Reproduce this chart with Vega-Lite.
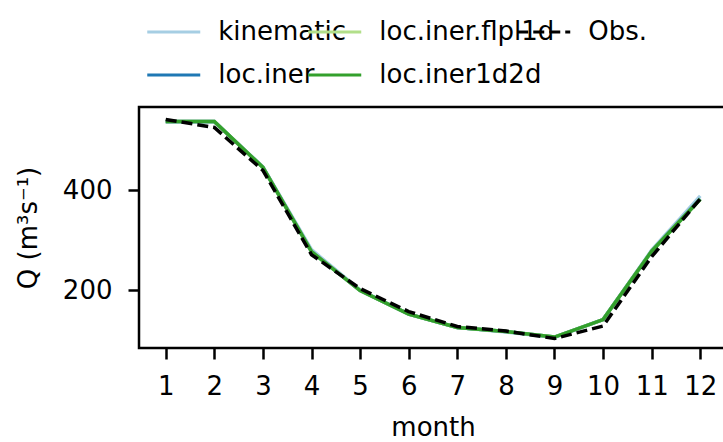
{
  "$schema": "https://vega.github.io/schema/vega-lite/v6.json",
  "autosize": "none",
  "padding": {"left": 139, "top": 107, "right": 0, "bottom": 94},
  "width": 588,
  "height": 241,
  "config": {
    "font": "DejaVu Sans",
    "view": {"stroke": "black", "strokeWidth": 2.5},
    "axis": {"grid": false, "domain": false, "tickColor": "black", "tickWidth": 2.5, "tickSize": 11, "labelColor": "black", "titleColor": "black", "labelFontSize": 26, "titleFontSize": 26, "titleFontWeight": "normal", "labelFont": "DejaVu Sans", "titleFont": "DejaVu Sans"},
    "legend": {"labelFont": "DejaVu Sans", "labelFontSize": 26, "labelColor": "black", "labelLimit": 400}
  },
  "data": {"values": [
    {"month": 1, "series": "kinematic", "Q": 537}, {"month": 2, "series": "kinematic", "Q": 537}, {"month": 3, "series": "kinematic", "Q": 447}, {"month": 4, "series": "kinematic", "Q": 281}, {"month": 5, "series": "kinematic", "Q": 200}, {"month": 6, "series": "kinematic", "Q": 152}, {"month": 7, "series": "kinematic", "Q": 125}, {"month": 8, "series": "kinematic", "Q": 116}, {"month": 9, "series": "kinematic", "Q": 105}, {"month": 10, "series": "kinematic", "Q": 141}, {"month": 11, "series": "kinematic", "Q": 280}, {"month": 12, "series": "kinematic", "Q": 389},
    {"month": 1, "series": "loc.iner", "Q": 538}, {"month": 2, "series": "loc.iner", "Q": 538}, {"month": 3, "series": "loc.iner", "Q": 446}, {"month": 4, "series": "loc.iner", "Q": 277}, {"month": 5, "series": "loc.iner", "Q": 199}, {"month": 6, "series": "loc.iner", "Q": 152}, {"month": 7, "series": "loc.iner", "Q": 125}, {"month": 8, "series": "loc.iner", "Q": 117}, {"month": 9, "series": "loc.iner", "Q": 106}, {"month": 10, "series": "loc.iner", "Q": 141}, {"month": 11, "series": "loc.iner", "Q": 278}, {"month": 12, "series": "loc.iner", "Q": 383},
    {"month": 1, "series": "loc.iner.flpl1d", "Q": 538}, {"month": 2, "series": "loc.iner.flpl1d", "Q": 538}, {"month": 3, "series": "loc.iner.flpl1d", "Q": 446}, {"month": 4, "series": "loc.iner.flpl1d", "Q": 277}, {"month": 5, "series": "loc.iner.flpl1d", "Q": 199}, {"month": 6, "series": "loc.iner.flpl1d", "Q": 152}, {"month": 7, "series": "loc.iner.flpl1d", "Q": 125}, {"month": 8, "series": "loc.iner.flpl1d", "Q": 117}, {"month": 9, "series": "loc.iner.flpl1d", "Q": 106}, {"month": 10, "series": "loc.iner.flpl1d", "Q": 141}, {"month": 11, "series": "loc.iner.flpl1d", "Q": 278}, {"month": 12, "series": "loc.iner.flpl1d", "Q": 382},
    {"month": 1, "series": "loc.iner1d2d", "Q": 538}, {"month": 2, "series": "loc.iner1d2d", "Q": 538}, {"month": 3, "series": "loc.iner1d2d", "Q": 446}, {"month": 4, "series": "loc.iner1d2d", "Q": 277}, {"month": 5, "series": "loc.iner1d2d", "Q": 199}, {"month": 6, "series": "loc.iner1d2d", "Q": 152}, {"month": 7, "series": "loc.iner1d2d", "Q": 125}, {"month": 8, "series": "loc.iner1d2d", "Q": 117}, {"month": 9, "series": "loc.iner1d2d", "Q": 106}, {"month": 10, "series": "loc.iner1d2d", "Q": 141}, {"month": 11, "series": "loc.iner1d2d", "Q": 278}, {"month": 12, "series": "loc.iner1d2d", "Q": 382},
    {"month": 1, "series": "Obs.", "Q": 542}, {"month": 2, "series": "Obs.", "Q": 526}, {"month": 3, "series": "Obs.", "Q": 440}, {"month": 4, "series": "Obs.", "Q": 271}, {"month": 5, "series": "Obs.", "Q": 203}, {"month": 6, "series": "Obs.", "Q": 157}, {"month": 7, "series": "Obs.", "Q": 127}, {"month": 8, "series": "Obs.", "Q": 118}, {"month": 9, "series": "Obs.", "Q": 103}, {"month": 10, "series": "Obs.", "Q": 128}, {"month": 11, "series": "Obs.", "Q": 267}, {"month": 12, "series": "Obs.", "Q": 383}
  ]},
  "encoding": {
    "x": {"field": "month", "type": "quantitative", "scale": {"domain": [0.45, 12.55], "nice": false, "zero": false}, "axis": {"values": [1,2,3,4,5,6,7,8,9,10,11,12], "title": "month", "labelPadding": 14, "titlePadding": 15, "labelFlush": false}},
    "y": {"field": "Q", "type": "quantitative", "scale": {"domain": [84, 567], "nice": false, "zero": false}, "axis": {"values": [200, 400], "title": "Q (m³s⁻¹)", "labelPadding": 16, "titlePadding": 21}}
  },
  "layer": [
    {"transform": [{"filter": "datum.series === 'kinematic' || datum.series === 'loc.iner'"}],
     "mark": {"type": "line", "strokeWidth": 3.5},
     "encoding": {
       "color": {"field": "series", "type": "nominal", "title": null,
         "scale": {"domain": ["kinematic", "loc.iner"], "range": ["#a6cee3", "#1f78b4"]},
         "legend": {"orient": "none", "legendX": -2, "legendY": -99, "rowPadding": 15, "symbolType": "M-2,0H2", "symbolSize": 702, "symbolStrokeWidth": 3, "symbolOffset": 12.75, "labelOffset": 29.5, "padding": 9}}
     }},
    {"transform": [{"filter": "datum.series === 'loc.iner.flpl1d' || datum.series === 'loc.iner1d2d'"}],
     "mark": {"type": "line", "strokeWidth": 3.5},
     "encoding": {
       "stroke": {"field": "series", "type": "nominal", "title": null,
         "scale": {"domain": ["loc.iner.flpl1d", "loc.iner1d2d"], "range": ["#b2df8a", "#33a02c"]},
         "legend": {"orient": "none", "legendX": 159, "legendY": -99, "rowPadding": 15, "symbolType": "M-2,0H2", "symbolSize": 702, "symbolStrokeWidth": 3, "symbolOffset": 12.75, "labelOffset": 29.5, "padding": 9}}
     }},
    {"transform": [{"filter": "datum.series === 'Obs.'"}],
     "mark": {"type": "line", "strokeWidth": 3.5, "color": "black"},
     "encoding": {
       "strokeDash": {"field": "series", "type": "nominal", "title": null,
         "scale": {"domain": ["Obs."], "range": [[11, 5]]},
         "legend": {"orient": "none", "legendX": 368, "legendY": -99, "rowPadding": 15, "symbolType": "M-2,0H2", "symbolSize": 702, "symbolStrokeWidth": 3, "symbolStrokeColor": "black", "symbolOffset": 12.75, "labelOffset": 29.5, "padding": 9}}
     }}
  ]
}
